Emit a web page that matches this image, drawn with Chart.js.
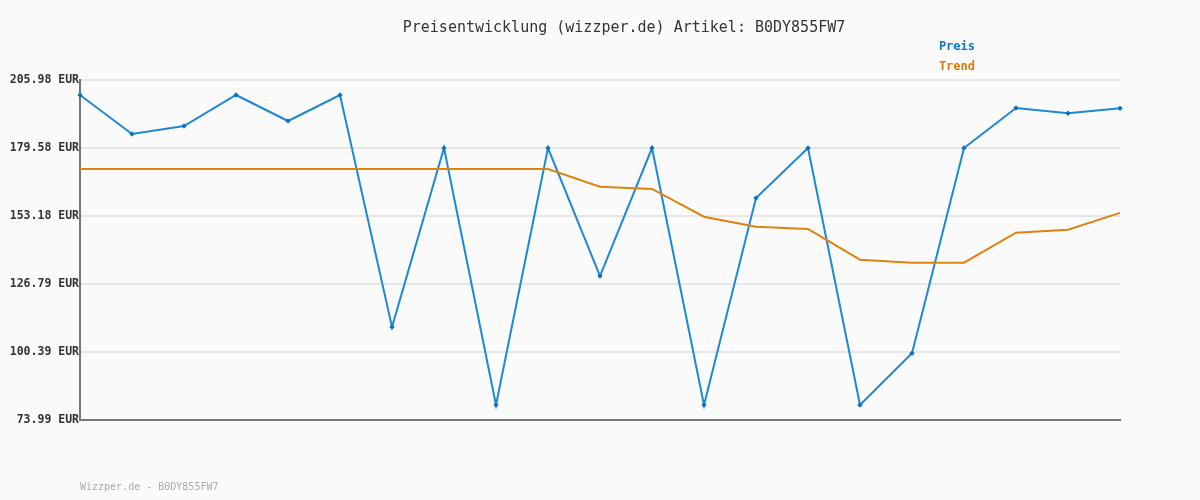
<!DOCTYPE html>
<html>
<head>
<meta charset="utf-8">
<title>Preisentwicklung B0DY855FW7</title>
<style>
    html, body { margin: 0; padding: 0; background: #fafafa; }
    #wrap { width: 1200px; height: 500px; }
</style>
</head>
<body>
<div id="wrap"><canvas id="myChart" width="1200" height="500"></canvas></div>

<script src="https://cdn.jsdelivr.net/npm/chart.js"></script>
<script>
    // data
    const points = ['1', '2', '3', '4', '5', '6', '7', '8', '9', '10', '11', '12', '13', '14', '15', '16', '17', '18', '19', '20', '21'];
    const preis = [200.16, 185.02, 188.12, 200.16, 190.06, 200.16, 110.10, 179.58, 79.82, 179.58, 129.89,
        179.58, 79.82, 160.17, 179.58, 79.82, 99.90, 179.58, 195.11, 193.05, 194.99];
    const trend = [171.43, 171.43, 171.43, 171.43, 171.43, 171.43, 171.43, 171.43, 171.43, 171.43, 164.56,
        163.67, 152.91, 149.03, 148.14, 136.22, 135.06, 135.06, 146.70, 147.87, 154.39];
    const yTicks = [73.99, 100.39, 126.79, 153.18, 179.58, 205.98];

    const titleText = 'Preisentwicklung (wizzper.de) Artikel: B0DY855FW7';
    const footerText = 'Wizzper.de - B0DY855FW7';
    const mono = '"DejaVu Sans Mono", "Liberation Mono", monospace';

    const textPlugin = {
        id: 'texts',
        afterDraw(chart) {
            const c = chart.ctx;
            c.save();
            c.textBaseline = 'middle';

            c.font = '15px ' + mono;
            c.fillStyle = '#333333';
            c.textAlign = 'center';
            c.fillText(titleText, 624, 28);

            c.font = 'bold 12px ' + mono;
            c.textAlign = 'right';
            c.fillStyle = '#0a78c8';
            c.fillText('Preis', 975, 47);
            c.fillStyle = '#d97a0a';
            c.fillText('Trend', 975, 67);

            c.font = '10px ' + mono;
            c.textAlign = 'left';
            c.fillStyle = '#aaaaaa';
            c.fillText(footerText, 80, 487);
            c.restore();
        }
    };

    const ctx = document.getElementById('myChart');

    new Chart(ctx, {
        type: 'line',
        data: {
            labels: points,
            datasets: [
                {
                    label: 'Trend',
                    data: trend,
                    borderColor: '#e0820f',
                    borderWidth: 2,
                    pointRadius: 0,
                    tension: 0,
                    fill: false
                }, {
                    label: 'Preis',
                    data: preis,
                    borderColor: '#1f88d2',
                    borderWidth: 2,
                    pointStyle: 'rectRot',
                    pointRadius: 2.2,
                    pointBackgroundColor: '#0b70bf',
                    pointBorderColor: '#0b70bf',
                    pointBorderWidth: 1,
                    tension: 0,
                    fill: false
                }
            ]
        },
        options: {
            responsive: false,
            animation: false,
            layout: {
                padding: { left: 0, right: 80, top: 80, bottom: 80 }
            },
            plugins: {
                legend: { display: false },
                title: { display: false },
                tooltip: { enabled: false }
            },
            scales: {
                x: {
                    offset: false,
                    ticks: { display: false },
                    grid: { display: false, drawTicks: false },
                    border: { display: true, color: '#777777', width: 2 },
                    afterFit: scale => { scale.height = 0; }
                },
                y: {
                    min: 73.99,
                    max: 205.98,
                    afterBuildTicks: scale => {
                        scale.ticks = yTicks.map(v => ({ value: v }));
                    },
                    afterFit: scale => { scale.width = 80; },
                    ticks: {
                        padding: 1,
                        color: '#333333',
                        font: { family: mono, size: 11.5, weight: 'bold' },
                        callback: v => Number(v).toFixed(2) + ' EUR'
                    },
                    grid: { color: '#e6e6e6', lineWidth: 2, drawTicks: false },
                    border: { display: true, color: '#777777', width: 2 }
                }
            }
        },
        plugins: [textPlugin]
    });
</script>
</body>
</html>
